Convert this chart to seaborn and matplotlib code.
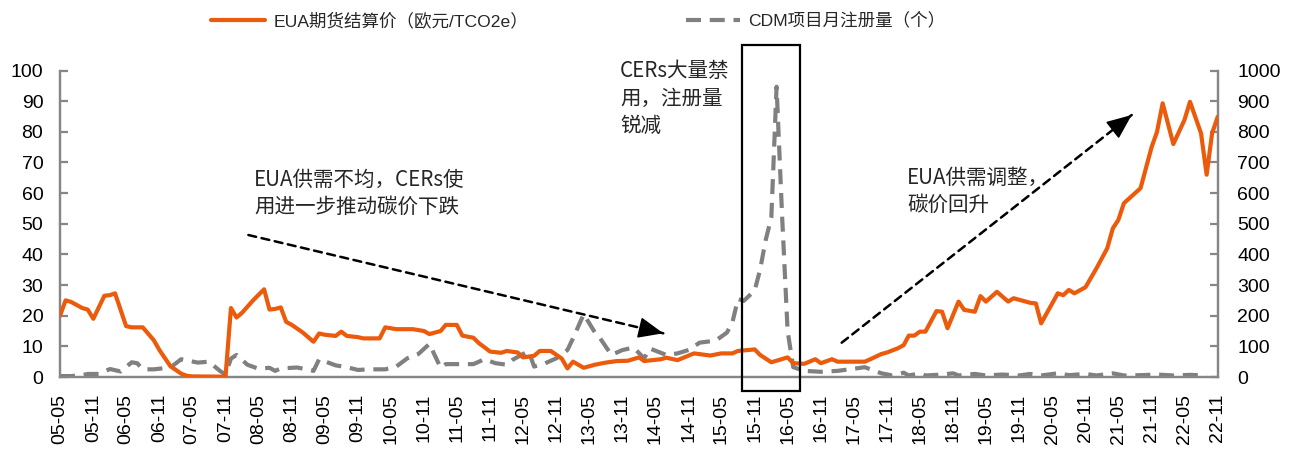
import matplotlib
matplotlib.use("Agg")
import matplotlib.pyplot as plt
import matplotlib.dates as mdates
from matplotlib.lines import Line2D
from matplotlib.patches import Rectangle
import numpy as np
import pandas as pd
import seaborn as sns

# Monthly calendar: 2005-05 .. 2022-11
months = pd.date_range("2005-05-01", "2022-11-01", freq="MS")

# EUA futures settlement price (EUR/tCO2e); month offsets from 2005-05
eua_idx = [0, 1, 2, 4, 5, 6, 8, 9, 10, 12, 13, 15, 17, 18, 20, 22, 23, 24, 30,
           31, 32, 33, 35, 37, 38, 39, 40, 41, 42, 44, 46, 47, 48, 50, 51, 52,
           54, 55, 58, 59, 61, 64, 66, 67, 69, 70, 72, 73, 75, 76, 77, 78, 80,
           81, 83, 84, 86, 87, 89, 91, 92, 93, 95, 97, 99, 101, 103, 105, 106,
           109, 110, 112, 115, 118, 120, 122, 123, 126, 127, 129, 132, 133, 135,
           137, 138, 140, 141, 146, 147, 149, 150, 152, 153, 154, 155, 156, 157,
           159, 160, 161, 163, 164, 166, 167, 168, 170, 172, 173, 176, 177, 178,
           181, 182, 183, 184, 186, 188, 190, 191, 192, 193, 196, 198, 199, 200,
           202, 204, 205, 207, 208, 209, 210]
eua_val = [20, 25, 24.5, 22.5, 22, 19, 26.5, 26.7, 27.3, 16.6, 16.2, 16.2, 12, 8.8,
           3.5, 1.1, 0.4, 0.2, 0.1,
           22.5, 19.4, 21, 25, 28.6, 22, 22.2, 22.7, 18, 17, 14.5, 11.5, 14.2, 13.8,
           13.4, 14.8, 13.4,
           13, 12.6, 12.6, 16.2, 15.6, 15.6, 15, 14, 15, 17, 17, 13.5, 12.8, 11,
           9.7, 8.3, 7.9,
           8.5, 8, 6.4, 6.9, 8.5, 8.5, 6, 2.8, 5, 3, 4, 4.7, 5.2, 5.3, 6.4, 5.2,
           5.8, 6.3, 5.5, 7.7, 7, 7.7, 7.7, 8.5, 9, 7.2, 4.8, 6.4, 4.5, 4.3,
           5.8, 4.5, 5.8, 5, 5, 5.8, 7.5, 8, 9.4, 10.4, 13.5, 13.5, 14.8, 14.8,
           21.5, 21.3, 15.9, 24.6, 21.9, 21.3, 26.4, 24.6, 27.8, 24.6, 25.7, 24.2,
           24, 17.5,
           27.3, 26.7, 28.4, 27.3, 29.3, 35.5, 42, 48.5, 51.2, 56.7, 61.6, 75, 80,
           89.3,
           76, 83.8, 89.8, 79.5, 66, 79.5, 84.9]

# CDM projects registered per month; month offsets from 2005-05
cdm_idx = [0, 2, 4, 5, 7, 9, 11, 13, 14, 15, 17, 20, 22, 25, 27, 29, 30, 31, 32,
           34, 36, 38, 39, 40, 43, 46, 47, 50, 52, 54, 56, 59, 61, 63, 65, 67,
           69, 70, 75, 77, 79, 81, 82, 85, 86, 88, 90, 92, 93, 95, 97, 98, 100,
           102, 104, 106, 107, 110, 112, 114, 116, 119, 121, 122, 123, 124, 126,
           127, 128, 129, 130, 131, 132, 133, 135, 138, 141, 144, 146, 149, 151,
           153, 154, 156, 157, 160, 162, 163, 166, 168, 171, 174, 176, 178, 181,
           183, 186, 188, 191, 193, 196, 199, 202, 205, 208]
cdm_val = [3, 3, 6, 10, 10, 26, 18, 48, 45, 25, 25, 31, 58, 47, 50, 20, 8, 60, 72,
           40, 27, 30, 20, 28, 31, 20, 58, 38, 32, 23, 25, 25, 34, 61, 75, 108,
           30, 42, 42, 58, 45, 40, 55, 85, 34, 45, 61, 88, 126, 205, 146, 126, 72,
           88, 96, 61, 93, 72, 77, 88, 112, 119, 145, 178, 255, 248, 282,
           350, 447, 520, 947, 520, 150, 32, 20, 17, 20, 27, 32, 12, 5,
           14, 5, 12, 5, 8, 12, 5, 10, 5, 8, 5, 10, 5, 12,
           6, 10, 5, 12, 5, 6, 8, 5, 7, 5]

eua_df = pd.DataFrame({"date": months[eua_idx], "price": eua_val})
cdm_df = pd.DataFrame({"date": months[cdm_idx], "count": cdm_val})

eua_label = "EUA期货结算价（欧元/TCO2e）"
cdm_label = "CDM项目月注册量（个）"
note_fall = "EUA供需不均，CERs使\n用进一步推动碳价下跌"
note_ban = "CERs大量禁\n用，注册量\n锐减"
note_rise = "EUA供需调整，\n碳价回升"

sns.set_style("white")
plt.rcParams["font.family"] = ["Liberation Sans", "Noto Sans CJK SC", "DejaVu Sans"]

ORANGE = "#EC5A0B"
GRAY = "#808080"
AXIS = "#868686"

fig = plt.figure(figsize=(12.96, 4.5), dpi=100)
ax = fig.add_axes([60 / 1296, 73 / 450, 1157.7 / 1296, 306.5 / 450])
ax2 = ax.twinx()

sns.lineplot(data=eua_df, x="date", y="price", ax=ax, color=ORANGE,
             linewidth=3, sort=False, zorder=3)
sns.lineplot(data=cdm_df, x="date", y="count", ax=ax2, color=GRAY,
             linewidth=3, sort=False, linestyle=(0, (3.6, 2.1)))
ax.set_zorder(ax2.get_zorder() + 1)
ax.patch.set_visible(False)

ax.set_xlim(months[0], months[-1])
ax.set_ylim(0, 100)
ax2.set_ylim(0, 1000)
ax.set_yticks(np.arange(0, 101, 10))
ax2.set_yticks(np.arange(0, 1001, 100))
ax.xaxis.set_major_locator(mdates.MonthLocator(bymonth=[5, 11]))
ax.xaxis.set_major_formatter(mdates.DateFormatter("%y-%m"))
ax.set_xlabel("")
ax.set_ylabel("")
ax2.set_ylabel("")

for a in (ax, ax2):
    a.spines["top"].set_visible(False)
    for side in ("left", "right", "bottom"):
        a.spines[side].set_color(AXIS)
        a.spines[side].set_linewidth(1.6)
ax.tick_params(axis="y", direction="in", length=6, width=1.6, color=AXIS,
               labelsize=14, pad=12, labelcolor="black")
ax2.tick_params(axis="y", direction="in", length=6, width=1.6, color=AXIS,
                labelsize=14, pad=14, labelcolor="black")
ax.tick_params(axis="x", direction="in", length=6, width=1.6, color=AXIS,
               labelsize=14, pad=12, labelrotation=90, labelcolor="black")

# highlight box around the registration spike
box = Rectangle((0.5888, -0.0447), 0.0504, 1.1286, transform=ax.transAxes,
                fill=False, edgecolor="black", linewidth=1.6, clip_on=False,
                zorder=6)
ax.add_patch(box)


def trend_arrow(start, end):
    """Dashed shaft with a solid filled head, in axes-fraction coordinates."""
    ax.annotate("", xy=end, xytext=start, xycoords="axes fraction",
                textcoords="axes fraction", zorder=5,
                arrowprops=dict(arrowstyle="-", color="black", lw=1.8,
                                linestyle=(0, (3.2, 2.2)), shrinkA=0,
                                shrinkB=0))
    sx, sy = start
    ex, ey = end
    back = (ex - (ex - sx) * 0.03, ey - (ey - sy) * 0.03)
    ax.annotate("", xy=end, xytext=back, xycoords="axes fraction",
                textcoords="axes fraction", zorder=5,
                arrowprops=dict(arrowstyle="-|>,head_length=1.3,head_width=0.55",
                                color="black", lw=1.2, shrinkA=0, shrinkB=0,
                                mutation_scale=12))


trend_arrow((0.1627, 0.4633), (0.5211, 0.1426))
trend_arrow((0.6752, 0.1119), (0.9257, 0.8548))

cjk = ["Noto Sans CJK SC", "DejaVu Sans"]
note_kw = dict(transform=ax.transAxes, ha="left", va="center", fontsize=14.8,
               family=cjk, color="#262626", linespacing=1.3)
ax.text(0.1676, 0.5987, note_fall, **note_kw)
ax.text(0.4837, 0.9086, note_ban, **note_kw)
ax.text(0.7316, 0.6052, note_rise, **note_kw)

handles = [Line2D([], [], color=ORANGE, lw=3),
           Line2D([], [], color=GRAY, lw=3, linestyle=(0, (3.6, 2.1)))]
fig.legend(handles, [eua_label, cdm_label], loc="center",
           bbox_to_anchor=(0.446, 0.955), ncol=2, frameon=False,
           fontsize=12.6, handlelength=3.1, handletextpad=0.45,
           columnspacing=9.0)

fig.savefig("out.png", dpi=100)
